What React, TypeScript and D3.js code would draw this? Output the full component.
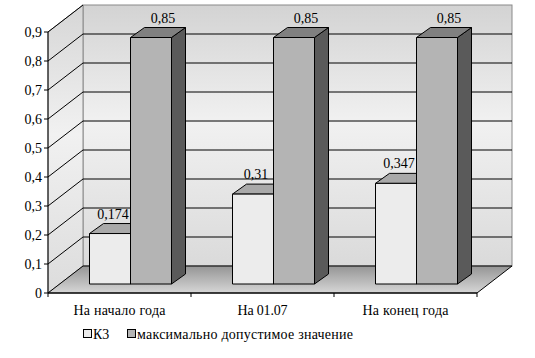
import React from "react";
import * as d3 from "d3";

const categories = ["На начало года", "На 01.07", "На конец года"];
const seriesNames = ["К3", "максимально допустимое значение"];
const k3Values = [0.174, 0.31, 0.347];
const maxValues = [0.85, 0.85, 0.85];
const k3Labels = ["0,174", "0,31", "0,347"];
const maxLabels = ["0,85", "0,85", "0,85"];
const yTicks = [0, 0.1, 0.2, 0.3, 0.4, 0.5, 0.6, 0.7, 0.8, 0.9];

const W = 535;
const H = 358;
const K = 0.7; // rendered at 20px, scaled to 14px

function T(props: any) {
  const { children, x, y, dy, textAnchor, textLength } = props;
  return (
    <g transform={`translate(${x},${y}) scale(${K})`}>
      <text
        x={0}
        y={0}
        dy={dy}
        textAnchor={textAnchor}
        textLength={textLength ? textLength / K : undefined}
        lengthAdjust={textLength ? "spacing" : undefined}
        fill="#000"
        style={{ fontFamily: '"Liberation Serif"', fontSize: "20px" }}
      >
        {children}
      </text>
    </g>
  );
}

export default function App() {
  const left = 48;
  const right = 477;
  const y0 = 293;
  const yTop = 32;
  const DX = 35;
  const DY = 27;
  const y = d3.scaleLinear().domain([0, 0.9]).range([y0, yTop]);
  const x0 = d3.scaleBand<string>().domain(categories).range([left, right]);
  const bw = x0.bandwidth();
  const x1 = d3
    .scaleBand<number>()
    .domain([0, 1])
    .range([29.5, bw - 31.5]);
  const bdx = 12;
  const bdy = 9;
  const tdx = 14;
  const tdy = 10;

  const fmt = (v: number) => d3.format(".1f")(v).replace(".", ",").replace(/^0,0$/, "0");
  const catWidths = [92, 50, 86];

  const series = [
    { values: k3Values, labels: k3Labels, front: "#ececec", top: "#a9a9a9", side: "#6a6a6a", ldx: 3 },
    { values: maxValues, labels: maxLabels, front: "#b4b4b4", top: "#808080", side: "#5a5a5a", ldx: 12 },
  ];

  const bars: React.ReactNode[] = [];
  const labels: React.ReactNode[] = [];
  categories.forEach((c, ci) => {
    series.forEach((s, si) => {
      const v = s.values[ci];
      const xl = (x0(c) as number) + (x1(si) as number) + bdx;
      const xr = xl + x1.bandwidth();
      const yb = y(0) - bdy;
      const yt = y(v) - bdy;
      bars.push(
        <g key={`b-${ci}-${si}`} stroke="#000" strokeWidth={1} strokeLinejoin="round">
          <polygon
            points={`${xr},${yt} ${xr + tdx},${yt - tdy} ${xr + tdx},${yb - tdy} ${xr},${yb}`}
            fill={s.side}
          />
          <polygon
            points={`${xl},${yt} ${xl + tdx},${yt - tdy} ${xr + tdx},${yt - tdy} ${xr},${yt}`}
            fill={s.top}
          />
          <rect x={xl} y={yt} width={xr - xl} height={yb - yt} fill={s.front} />
        </g>
      );
      labels.push(
        <T key={`l-${ci}-${si}`} x={(xl + xr) / 2 + s.ldx} y={yt - tdy - 5} textAnchor="middle">
          {s.labels[ci]}
        </T>
      );
    });
  });

  const bx0 = left + DX;
  const bx1 = right + DX;
  const byTop = yTop - DY;
  const byBot = y0 - DY;

  return (
    <svg width={W} height={H} style={{ position: "absolute", left: 0, top: 0 }}>
      <defs>
        <linearGradient id="wallGrad" x1="0" y1="0" x2="0" y2="1">
          <stop offset="0" stopColor="#d3d3d3" />
          <stop offset="0.45" stopColor="#f1f1f1" />
          <stop offset="1" stopColor="#dadada" />
        </linearGradient>
        <linearGradient id="sideGrad" x1="0" y1="0" x2="0" y2="1">
          <stop offset="0" stopColor="#d6d6d6" />
          <stop offset="0.45" stopColor="#f1f1f1" />
          <stop offset="1" stopColor="#dcdcdc" />
        </linearGradient>
        <linearGradient id="floorGrad" x1="0" y1="0" x2="0" y2="1">
          <stop offset="0" stopColor="#959595" />
          <stop offset="1" stopColor="#d6d6d6" />
        </linearGradient>
      </defs>
      <rect x={0} y={0} width={W} height={H} fill="#fff" />
      <rect
        x={bx0}
        y={byTop}
        width={bx1 - bx0}
        height={byBot - byTop}
        fill="url(#wallGrad)"
        stroke="#8a8a8a"
        strokeWidth={1}
      />
      <polygon
        points={`${left},${y0} ${left},${yTop} ${bx0},${byTop} ${bx0},${byBot}`}
        fill="url(#sideGrad)"
        stroke="#8a8a8a"
        strokeWidth={1}
      />
      <polygon
        points={`${left},${y0} ${right},${y0} ${bx1},${byBot} ${bx0},${byBot}`}
        fill="url(#floorGrad)"
        stroke="#000"
        strokeWidth={1}
      />
      {yTicks.slice(1, -1).map((t) => (
        <g key={`g-${t}`} stroke="#000" strokeWidth={1}>
          <line x1={left} y1={y(t)} x2={bx0} y2={y(t) - DY} />
          <line x1={bx0} y1={y(t) - DY} x2={bx1} y2={y(t) - DY} />
        </g>
      ))}
      <line x1={left} y1={y(0.9)} x2={bx0} y2={y(0.9) - DY} stroke="#000" strokeWidth={1} />
      {bars}
      {labels}
      <line x1={left} y1={y0} x2={left} y2={yTop} stroke="#000" strokeWidth={1} />
      {yTicks.map((t) => (
        <g key={`t-${t}`}>
          <line x1={left - 4} x2={left} y1={y(t)} y2={y(t)} stroke="#000" />
          <T x={left - 6} y={y(t)} dy="0.33em" textAnchor="end">
            {fmt(t)}
          </T>
        </g>
      ))}
      <line x1={left} y1={y0} x2={right} y2={y0} stroke="#000" strokeWidth={1} />
      {[...categories.map((c) => x0(c) as number), right].map((xx, i) => (
        <line key={`xt-${i}`} x1={xx} x2={xx} y1={y0} y2={y0 + 4} stroke="#000" />
      ))}
      {categories.map((c, i) => (
        <T
          key={`c-${c}`}
          x={(x0(c) as number) + bw / 2 - catWidths[i] / 2}
          y={y0 + 17}
          dy="0.33em"
          textLength={catWidths[i]}
        >
          {c}
        </T>
      ))}
      <g>
        <rect x={83.5} y={329.5} width={8} height={8} fill={series[0].front} stroke="#000" />
        <T x={93} y={334} dy="0.33em">
          {seriesNames[0]}
        </T>
        <rect x={127.5} y={329.5} width={8} height={8} fill={series[1].front} stroke="#000" />
        <T x={137} y={334} dy="0.33em" textLength={216}>
          {seriesNames[1]}
        </T>
      </g>
    </svg>
  );
}
